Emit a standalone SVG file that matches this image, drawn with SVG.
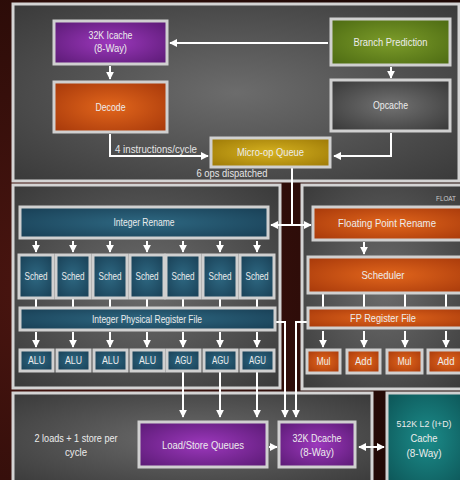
<svg xmlns="http://www.w3.org/2000/svg" width="460" height="480" viewBox="0 0 460 480">
<defs>
<style>
.panel{stroke:#d4d4d4;stroke-width:3;fill:url(#gPanel)}
.box{stroke:#d0d0d0;stroke-width:3}
.t{font-family:"Liberation Sans",Arial,sans-serif;font-size:11px;fill:#ececec;text-anchor:middle}
.lbl{font-family:"Liberation Sans",Arial,sans-serif;font-size:10.5px;fill:#e6e6e6}
.c{stroke:#ffffff;stroke-width:2;fill:none}
.a{marker-end:url(#ah)}
.d{marker-end:url(#ah);marker-start:url(#ah)}
.purple{fill:url(#gPurple)}.green{fill:url(#gGreen)}.orange{fill:url(#gOrange)}.gray{fill:url(#gGray)}.gold{fill:url(#gGold)}.teal{fill:url(#gTeal)}.l2{fill:url(#gL2)}
</style>
<radialGradient id="gBg" cx="0.1" cy="0.6" r="0.9"><stop offset="0" stop-color="#4a1510"/><stop offset="1" stop-color="#1e0805"/></radialGradient>
<radialGradient id="gPanel" cx="0.5" cy="0.5" r="0.7"><stop offset="0" stop-color="#6c6c6c"/><stop offset="1" stop-color="#3a3a3a"/></radialGradient>
<radialGradient id="gPurple" cx="0.5" cy="0.5" r="0.7"><stop offset="0" stop-color="#9c38bc"/><stop offset="1" stop-color="#5a1a74"/></radialGradient>
<radialGradient id="gGreen" cx="0.5" cy="0.5" r="0.7"><stop offset="0" stop-color="#7c9c2a"/><stop offset="1" stop-color="#4c6a12"/></radialGradient>
<radialGradient id="gOrange" cx="0.5" cy="0.5" r="0.7"><stop offset="0" stop-color="#e2661c"/><stop offset="1" stop-color="#a6380a"/></radialGradient>
<radialGradient id="gGray" cx="0.5" cy="0.5" r="0.7"><stop offset="0" stop-color="#727272"/><stop offset="1" stop-color="#383838"/></radialGradient>
<radialGradient id="gGold" cx="0.5" cy="0.5" r="0.7"><stop offset="0" stop-color="#d6b220"/><stop offset="1" stop-color="#9c7806"/></radialGradient>
<radialGradient id="gTeal" cx="0.5" cy="0.5" r="0.7"><stop offset="0" stop-color="#2e6882"/><stop offset="1" stop-color="#183e54"/></radialGradient>
<radialGradient id="gL2" cx="0.5" cy="0.5" r="0.7"><stop offset="0" stop-color="#1c8c8a"/><stop offset="1" stop-color="#0c5456"/></radialGradient>
<marker id="ah" viewBox="0 0 10 10" refX="9" refY="5" markerWidth="8" markerHeight="8" markerUnits="userSpaceOnUse" orient="auto-start-reverse"><path d="M0,0 L10,5 L0,10 Z" fill="#ffffff"/></marker>
</defs>
<rect width="460" height="480" fill="url(#gBg)"/>
<g id="panels">
<rect class="panel" x="13" y="4" width="446" height="177"/>
<rect class="panel" x="13" y="185" width="267" height="203"/>
<rect class="panel" x="302" y="185" width="165" height="204"/>
<rect class="panel" x="13" y="393" width="359" height="92"/>
<text class="lbl" x="436" y="201" style="font-size:7px;fill:#cccccc" textLength="20" lengthAdjust="spacingAndGlyphs">FLOAT</text>
<text class="t" x="76" y="442" textLength="83" lengthAdjust="spacingAndGlyphs">2 loads + 1 store per</text>
<text class="t" x="76" y="456" textLength="22" lengthAdjust="spacingAndGlyphs">cycle</text>
</g>
<g id="connectors">
<path class="c a" d="M328,43 H170"/>
<path class="c a" d="M110,66 V79"/>
<path class="c a" d="M391,67 V78"/>
<path class="c a" d="M110,134 V156 H208"/>
<path class="c a" d="M391,133 V156 H334"/>
<path class="c" d="M292,168 V225"/>
<path class="c d" d="M271,225 H311"/>
<path class="c a" d="M36,241 V252"/><path class="c a" d="M73,241 V252"/><path class="c a" d="M110,241 V252"/><path class="c a" d="M147,241 V252"/><path class="c a" d="M183,241 V252"/><path class="c a" d="M220,241 V252"/><path class="c a" d="M257,241 V252"/>
<path class="c" d="M36,298 V308 M73,298 V308 M110,298 V308 M147,298 V308 M183,298 V308 M220,298 V308 M257,298 V308"/>
<path class="c a" d="M36,332 V347"/><path class="c a" d="M73,332 V347"/><path class="c a" d="M110,332 V347"/><path class="c a" d="M147,332 V347"/><path class="c a" d="M183,332 V347"/><path class="c a" d="M220,332 V347"/><path class="c a" d="M257,332 V347"/>
<path class="c a" d="M183,372 V417"/><path class="c a" d="M220,372 V417"/><path class="c a" d="M257,372 V417"/>
<path class="c a" d="M276,322 H285 V417"/>
<path class="c a" d="M307,322 H296 V417"/>
<path class="c a" d="M364,242 V254"/>
<path class="c" d="M323,294 V308 M364,294 V308 M405,294 V308 M446,294 V308"/>
<path class="c a" d="M323,331 V347"/><path class="c a" d="M364,331 V347"/><path class="c a" d="M405,331 V347"/><path class="c a" d="M446,331 V347"/>
<path class="c a" d="M269,447 H277"/>
<path class="c d" d="M359,447 H384"/>
</g>
<g id="icache"><rect class="box purple" x="54" y="21" width="113" height="43"/><text class="t" x="110.5" y="39" textLength="44" lengthAdjust="spacingAndGlyphs">32K Icache</text><text class="t" x="110.5" y="52" textLength="33" lengthAdjust="spacingAndGlyphs">(8-Way)</text></g>
<g id="branch"><rect class="box green" x="331" y="19" width="119" height="46"/><text class="t" x="390.5" y="46" textLength="74" lengthAdjust="spacingAndGlyphs">Branch Prediction</text></g>
<g id="decode"><rect class="box orange" x="54" y="82" width="113" height="50"/><text class="t" x="110.5" y="111" textLength="30" lengthAdjust="spacingAndGlyphs">Decode</text></g>
<g id="opcache"><rect class="box gray" x="331" y="80" width="119" height="51"/><text class="t" x="390.5" y="109" textLength="35" lengthAdjust="spacingAndGlyphs">Opcache</text></g>
<g id="uopq"><rect class="box gold" x="211" y="138" width="119" height="29"/><text class="t" x="270.5" y="156" textLength="67" lengthAdjust="spacingAndGlyphs">Micro-op Queue</text></g>
<text class="lbl" x="115" y="153" textLength="82" lengthAdjust="spacingAndGlyphs">4 instructions/cycle</text>
<text class="lbl" x="232" y="177" text-anchor="middle" textLength="71" lengthAdjust="spacingAndGlyphs">6 ops dispatched</text>
<g id="intrename"><rect class="box teal" x="20" y="207" width="248" height="31"/><text class="t" x="144" y="226" textLength="61" lengthAdjust="spacingAndGlyphs">Integer Rename</text></g>
<g id="sched1"><rect class="box teal" x="19" y="255" width="34" height="43"/><text class="t" x="36" y="280" textLength="23" lengthAdjust="spacingAndGlyphs">Sched</text></g>
<g id="sched2"><rect class="box teal" x="56" y="255" width="34" height="43"/><text class="t" x="73" y="280" textLength="23" lengthAdjust="spacingAndGlyphs">Sched</text></g>
<g id="sched3"><rect class="box teal" x="93" y="255" width="34" height="43"/><text class="t" x="110" y="280" textLength="23" lengthAdjust="spacingAndGlyphs">Sched</text></g>
<g id="sched4"><rect class="box teal" x="130" y="255" width="34" height="43"/><text class="t" x="147" y="280" textLength="23" lengthAdjust="spacingAndGlyphs">Sched</text></g>
<g id="sched5"><rect class="box teal" x="166" y="255" width="34" height="43"/><text class="t" x="183" y="280" textLength="23" lengthAdjust="spacingAndGlyphs">Sched</text></g>
<g id="sched6"><rect class="box teal" x="203" y="255" width="34" height="43"/><text class="t" x="220" y="280" textLength="23" lengthAdjust="spacingAndGlyphs">Sched</text></g>
<g id="sched7"><rect class="box teal" x="240" y="255" width="34" height="43"/><text class="t" x="257" y="280" textLength="23" lengthAdjust="spacingAndGlyphs">Sched</text></g>
<g id="iprf"><rect class="box teal" x="20" y="308" width="255" height="22"/><text class="t" x="147" y="323" textLength="110" lengthAdjust="spacingAndGlyphs">Integer Physical Register File</text></g>
<g id="alu1"><rect class="box teal" x="20" y="350" width="33" height="21"/><text class="t" x="36.5" y="364" textLength="17" lengthAdjust="spacingAndGlyphs">ALU</text></g>
<g id="alu2"><rect class="box teal" x="57" y="350" width="33" height="21"/><text class="t" x="73.5" y="364" textLength="17" lengthAdjust="spacingAndGlyphs">ALU</text></g>
<g id="alu3"><rect class="box teal" x="94" y="350" width="33" height="21"/><text class="t" x="110.5" y="364" textLength="17" lengthAdjust="spacingAndGlyphs">ALU</text></g>
<g id="alu4"><rect class="box teal" x="131" y="350" width="33" height="21"/><text class="t" x="147.5" y="364" textLength="17" lengthAdjust="spacingAndGlyphs">ALU</text></g>
<g id="agu1"><rect class="box teal" x="167" y="350" width="33" height="21"/><text class="t" x="183.5" y="364" textLength="17" lengthAdjust="spacingAndGlyphs">AGU</text></g>
<g id="agu2"><rect class="box teal" x="204" y="350" width="33" height="21"/><text class="t" x="220.5" y="364" textLength="17" lengthAdjust="spacingAndGlyphs">AGU</text></g>
<g id="agu3"><rect class="box teal" x="241" y="350" width="33" height="21"/><text class="t" x="257.5" y="364" textLength="17" lengthAdjust="spacingAndGlyphs">AGU</text></g>
<g id="fprename"><rect class="box orange" x="313" y="207" width="155" height="33"/><text class="t" x="387" y="227" textLength="98" lengthAdjust="spacingAndGlyphs">Floating Point Rename</text></g>
<g id="fpsched"><rect class="box orange" x="308" y="257" width="160" height="36"/><text class="t" x="383" y="279" textLength="43" lengthAdjust="spacingAndGlyphs">Scheduler</text></g>
<g id="fprf"><rect class="box orange" x="308" y="308" width="160" height="20"/><text class="t" x="383" y="322" textLength="66" lengthAdjust="spacingAndGlyphs">FP Register File</text></g>
<g id="mul1"><rect class="box orange" x="307" y="350" width="33" height="23"/><text class="t" x="323.5" y="365" textLength="14" lengthAdjust="spacingAndGlyphs">Mul</text></g>
<g id="add1"><rect class="box orange" x="347" y="350" width="33" height="23"/><text class="t" x="363.5" y="365" textLength="17" lengthAdjust="spacingAndGlyphs">Add</text></g>
<g id="mul2"><rect class="box orange" x="387" y="350" width="35" height="23"/><text class="t" x="404.5" y="365" textLength="14" lengthAdjust="spacingAndGlyphs">Mul</text></g>
<g id="add2"><rect class="box orange" x="428" y="350" width="40" height="23"/><text class="t" x="446" y="365" textLength="17" lengthAdjust="spacingAndGlyphs">Add</text></g>
<g id="lsq"><rect class="box purple" x="139" y="422" width="128" height="45"/><text class="t" x="203" y="449" textLength="82" lengthAdjust="spacingAndGlyphs">Load/Store Queues</text></g>
<g id="dcache"><rect class="box purple" x="279" y="422" width="76" height="45"/><text class="t" x="317" y="442" textLength="49" lengthAdjust="spacingAndGlyphs">32K Dcache</text><text class="t" x="317" y="456" textLength="34" lengthAdjust="spacingAndGlyphs">(8-Way)</text></g>
<g id="l2"><rect class="box l2" x="387" y="393" width="80" height="92"/><text class="t" x="424" y="427" style="font-size:9px" textLength="55" lengthAdjust="spacingAndGlyphs">512K L2 (I+D)</text><text class="t" x="424" y="442" textLength="27" lengthAdjust="spacingAndGlyphs">Cache</text><text class="t" x="424" y="457" textLength="35" lengthAdjust="spacingAndGlyphs">(8-Way)</text></g>
</svg>
